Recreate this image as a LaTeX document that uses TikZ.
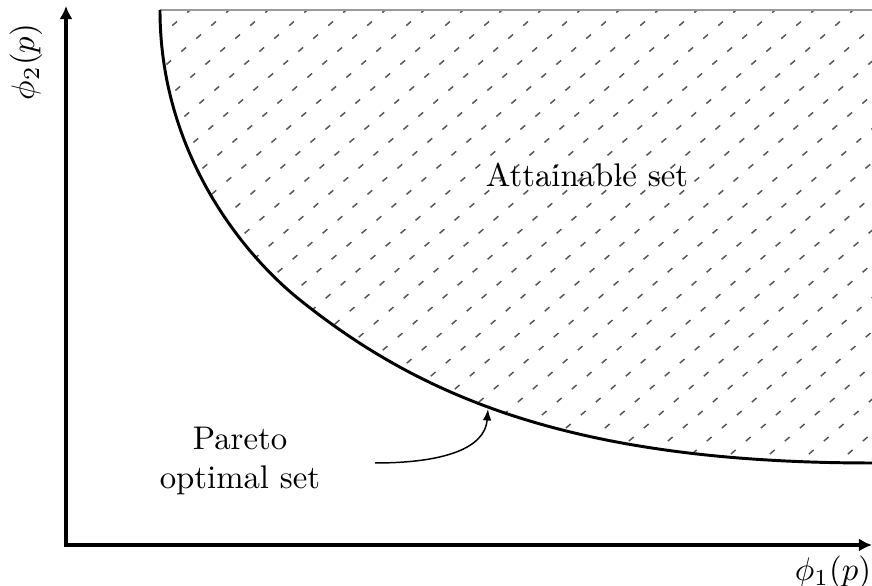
\documentclass[tikz,border=0pt]{standalone}
\usepackage{amsmath,amssymb}
\usepackage{xcolor}
\usepackage{tikz}
\usetikzlibrary{arrows.meta,positioning,calc}
\definecolor{hgray}{HTML}{555555}
\definecolor{lgray}{HTML}{9A9A9A}

\begin{document}
\begin{tikzpicture}[x=0.01073cm,y=-0.01073cm,
    axis/.style={line width=1.2pt,{Latex[length=4pt,width=4pt]}-{Latex[length=4pt,width=4pt]}},
    front/.style={line width=0.9pt},
    hatch/.style={hgray,line width=0.45pt,dash pattern=on 1.9pt off 4.15pt},
    pointer/.style={line width=0.45pt,-{Latex[length=3.5pt,width=2.6pt]}}]
  \useasboundingbox (0,0) rectangle (872,586);
  \coordinate (ytop) at (66,6);
  \coordinate (xend) at (872,545);
  \coordinate (ftop) at (160,10);
  \coordinate (fmid) at (300,300);
  \coordinate (fend) at (872,463);
  \coordinate (tr) at (872,10);
  \begin{scope}
    \clip (ftop) .. controls (160,150) and (240,252) .. (fmid)
      .. controls (420,396) and (572,463) .. (fend) -- (tr) -- cycle;
    \foreach \x in {-430,-391,...,900}
      \draw[hatch] (\x,480) -- ++(750,-650);
  \end{scope}
  \draw[lgray,line width=0.7pt] (ftop) -- (tr);
  \draw[front] (ftop) .. controls (160,150) and (240,252) .. (fmid)
    .. controls (420,396) and (572,463) .. (fend);
  \draw[axis] (ytop) |- (xend);
  \node[rotate=90] (ylab) at (26,62) {$\phi_2(p)$};
  \node (xlab) at (833,572) {$\phi_1(p)$};
  \node (att) at (587,175) {Attainable set};
  \node[align=center] (par) at (240,461) {Pareto\\optimal set};
  \coordinate (pstart) at (375,463);
  \coordinate (pend) at (488,409);
  \draw[pointer] (pstart) .. controls (445,463) and (485,448) .. (pend);
\end{tikzpicture}
\end{document}
